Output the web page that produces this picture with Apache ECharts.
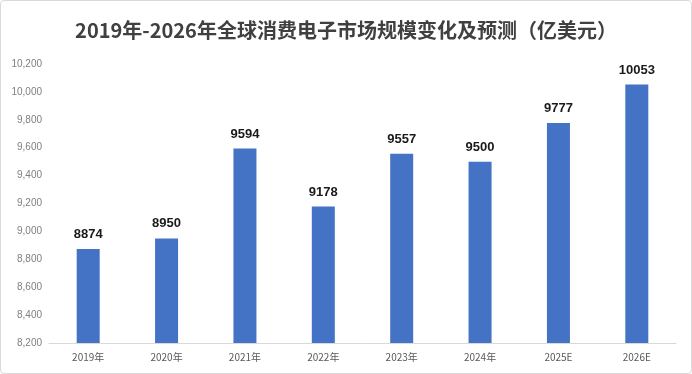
<!DOCTYPE html>
<html><head><meta charset="utf-8">
<script src="https://cdn.jsdelivr.net/npm/echarts@6/dist/echarts.min.js"></script>
<style>html,body{margin:0;padding:0;background:#fff}#c{width:692px;height:374px;box-sizing:border-box;border:1px solid #d9d9d9;border-radius:4px}</style>
</head><body><div id="c"></div>
<script>
var categories = ['2019年','2020年','2021年','2022年','2023年','2024年','2025E','2026E'];
var values = [8874, 8950, 9594, 9178, 9557, 9500, 9777, 10053];
var yMin = 8200, yMax = 10200, yStep = 200;
var chart = echarts.init(document.getElementById('c'));
chart.setOption({
  animation: false,
  title: {text: '2019年-2026年全球消费电子市场规模变化及预测（亿美元）', left: 'center', top: 14,
    textStyle: {fontSize: 20, fontWeight: 'bold', color: '#404040', fontFamily: 'Noto Sans CJK SC'}},
  grid: {left: 48, right: 15, top: 63, bottom: 30},
  xAxis: {type: 'category', data: categories,
    axisLine: {lineStyle: {color: '#d9d9d9'}}, axisTick: {show: false},
    axisLabel: {color: '#595959', fontSize: 10, margin: 9, fontFamily: 'Noto Sans CJK SC'}},
  yAxis: {type: 'value', min: yMin, max: yMax, interval: yStep,
    axisLine: {show: false}, axisTick: {show: false}, splitLine: {show: false},
    axisLabel: {color: '#7f7f7f', fontSize: 10, margin: 7, fontFamily: 'Liberation Sans',
      formatter: function(v){return v.toLocaleString('en-US');}}},
  series: [{type: 'bar', data: values, barWidth: 23,
    itemStyle: {color: '#4472C4'},
    label: {show: true, position: 'top', distance: 8, color: '#1a1a1a', fontSize: 13, fontWeight: 'bold', fontFamily: 'Liberation Sans'}}]
});
</script></body></html>
